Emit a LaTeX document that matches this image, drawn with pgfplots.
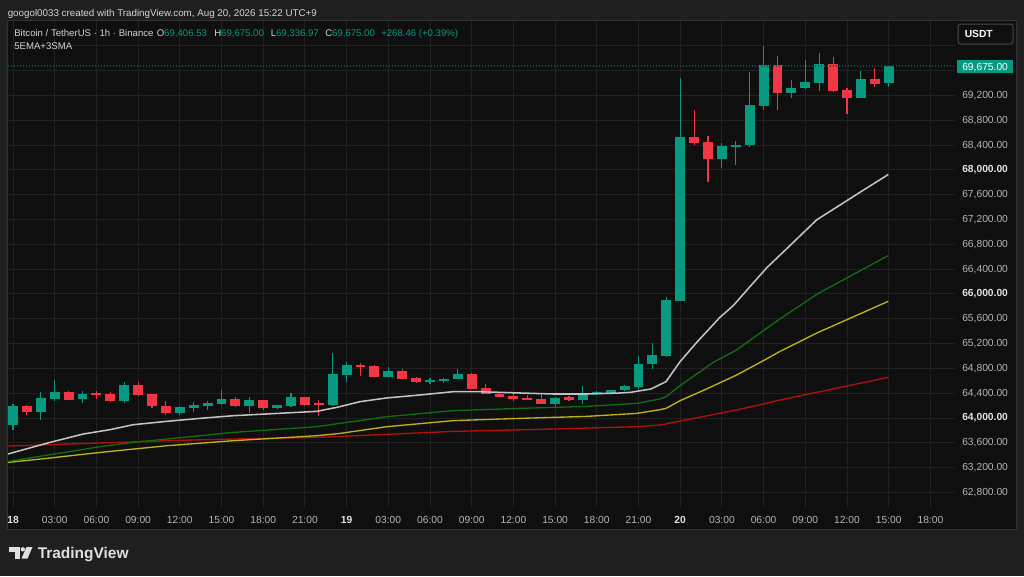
\documentclass[border=0pt]{standalone}
\usepackage{fontspec}
\setmainfont{Liberation Sans}
\usepackage{pgfplots}
\pgfplotsset{compat=1.18}
\usepackage{pgfplotstable}
\definecolor{outerbg}{RGB}{31,31,31}
\definecolor{panelbg}{RGB}{15,15,15}
\definecolor{gridc}{RGB}{33,33,33}
\definecolor{borderc}{RGB}{50,50,50}
\definecolor{boxborder}{RGB}{72,72,72}
\definecolor{upc}{RGB}{8,153,129}
\definecolor{downc}{RGB}{242,54,69}
\definecolor{dotc}{RGB}{16,84,72}
\definecolor{txt}{RGB}{209,212,220}
\definecolor{axtxt}{RGB}{178,181,190}
\definecolor{boldtxt}{RGB}{225,226,230}
\definecolor{maw}{RGB}{195,195,195}
\definecolor{mag}{RGB}{16,110,16}
\definecolor{may}{RGB}{190,180,25}
\definecolor{mar}{RGB}{180,15,15}
\newcommand{\fs}{\fontsize{7.7pt}{9pt}\selectfont}
\newcommand{\fh}{\fontsize{7.35pt}{9pt}\selectfont}
\newcommand{\fl}{\fontsize{7.2pt}{9pt}\selectfont}

% rising candles: hour index, open, high, low, close
\pgfplotstableread{
t o h l c
0 63892 64231 63811 64198
2 64106 64429 63973 64323
3 64311 64607 64279 64419
5 64300 64430 64250 64387
8 64274 64576 64250 64532
12 64090 64190 64053 64187
13 64171 64252 64090 64215
14 64203 64279 64133 64242
15 64231 64445 64215 64306
17 64187 64335 64090 64295
19 64161 64215 64140 64203
20 64198 64403 64187 64338
23 64203 65048 64190 64710
24 64698 64897 64585 64860
27 64661 64823 64661 64763
30 64574 64645 64555 64607
31 64597 64645 64570 64629
32 64629 64790 64629 64719
39 64231 64340 64187 64333
41 64290 64510 64220 64403
42 64403 64440 64380 64424
43 64413 64460 64380 64456
44 64452 64530 64440 64510
45 64500 64994 64468 64876
46 64871 65210 64790 65016
47 64995 65958 64990 65905
48 65893 69485 65880 68528
51 68180 68432 68029 68383
52 68385 68474 68087 68400
53 68394 69577 68368 69039
54 69027 69990 68969 69695
56 69237 69444 69157 69324
57 69319 69781 69308 69411
58 69398 69883 69269 69711
61 69163 69587 69160 69469
63 69406.53 69675 69336.97 69675
}\upcandles

% falling candles
\pgfplotstableread{
t o h l c
1 64198 64215 64053 64106
4 64419 64430 64285 64295
6 64395 64430 64306 64382
7 64392 64420 64260 64274
9 64537 64580 64350 64376
10 64387 64390 64160 64187
11 64198 64279 64053 64090
16 64306 64340 64180 64198
18 64295 64300 64130 64161
21 64338 64345 64200 64215
22 64240 64295 64026 64225
25 64860 64887 64671 64832
26 64844 64850 64661 64661
28 64763 64790 64634 64634
29 64645 64660 64574 64574
33 64719 64725 64473 64473
34 64478 64548 64392 64392
35 64392 64403 64338 64338
36 64349 64403 64269 64316
37 64323 64380 64290 64300
38 64306 64403 64231 64231
40 64338 64360 64280 64284
49 68528 68974 68395 68437
50 68448 68539 67802 68180
55 69695 69829 68969 69244
59 69711 69818 69254 69269
60 69292 69324 68894 69163
62 69469 69647 69335 69388
}\downcandles

\pgfplotstableread{
t v
-0.36 63421
2.66 63608
5.06 63743
6.98 63813
8.65 63893
11.06 63947
13.45 63995
15.85 64038
18.25 64066
21.85 64108
23.29 64172
24.96 64264
26.88 64324
29.28 64372
31.65 64425
33.6 64425
36.47 64404
38.85 64388
41.29 64388
43.67 64404
44.4 64414
45.9 64469
46.98 64587
47.99 64909
49.19 65221
50.86 65624
51.82 65813
53.02 66119
54.22 66421
55.9 66781
57.82 67195
60.94 67640
62.97 67926
}\mawhite

\pgfplotstableread{
t v
-0.36 63301
2.66 63409
6.26 63538
8.65 63608
11.06 63662
15.85 63769
21.85 63861
23.5 63914
26.9 64022
31.65 64119
36.47 64156
41.29 64188
44.9 64237
46.55 64308
46.98 64345
47.99 64522
50.38 64898
52.06 65098
53.98 65409
55.18 65598
57.94 66011
62.97 66619
}\magreen

\pgfplotstableread{
t v
-0.36 63285
2.66 63356
6.26 63446
11.06 63554
15.85 63635
21.85 63715
23.5 63752
26.9 63861
31.65 63958
36.47 63995
41.29 64027
44.9 64076
46.55 64135
46.98 64156
47.99 64280
49.9 64469
52.06 64694
53.98 64925
55.18 65075
57.94 65382
62.97 65882
}\mayellow

\pgfplotstableread{
t v
-0.36 63549
6.26 63598
11.06 63635
15.85 63662
21.85 63688
23.5 63704
31.65 63785
38.85 63823
44.9 63861
46.55 63888
52.06 64130
53.98 64227
55.18 64291
62.97 64656
}\mared

\begin{document}
\begin{tikzpicture}
\begin{scope}[x=0.75pt,y=-0.75pt]
\fill[outerbg] (0,0) rectangle (1024,576);
\filldraw[fill=panelbg, draw=borderc, line width=0.75pt] (7.5,20.5) rectangle (1016,529);
\end{scope}

\begin{axis}[
  at={(6pt,-381pt)}, anchor=south west,
  scale only axis, width=710.25pt, height=365.25pt,
  xmin=-0.36, xmax=67.77, ymin=62550, ymax=70400,
  axis line style={draw=none},
  major tick length=0pt,
  clip mode=individual,
  grid=major,
  major grid style={color=gridc, line width=0.75pt},
  scaled y ticks=false,
  xtick={0,3,...,66},
  xticklabels={{\textcolor{boldtxt}{\textbf{18}}},03:00,06:00,09:00,12:00,15:00,18:00,21:00,
    {\textcolor{boldtxt}{\textbf{19}}},03:00,06:00,09:00,12:00,15:00,18:00,21:00,
    {\textcolor{boldtxt}{\textbf{20}}},03:00,06:00,09:00,12:00,15:00,18:00},
  xticklabel style={font=\fs, text=axtxt, anchor=north, inner sep=0pt, yshift=-6pt},
  ytick={62800,63200,63600,64000,64400,64800,65200,65600,66000,66400,66800,67200,67600,68000,68400,68800,69200},
  yticklabels={{62,800.00},{63,200.00},{63,600.00},{\textcolor{boldtxt}{\textbf{64,000.00}}},{64,400.00},{64,800.00},{65,200.00},{65,600.00},{\textcolor{boldtxt}{\textbf{66,000.00}}},{66,400.00},{66,800.00},{67,200.00},{67,600.00},{\textcolor{boldtxt}{\textbf{68,000.00}}},{68,400.00},{68,800.00},{69,200.00}},
  extra y ticks={69600,70000},
  extra y tick labels={},
  yticklabel pos=right,
  yticklabel style={font=\fs, text=axtxt, anchor=west, inner sep=0pt, xshift=5.25pt},
]
% wicks
\addplot[draw=none, mark=none, forget plot,
  error bars/.cd, y dir=both, y explicit, error mark=none,
  error bar style={draw=upc, line width=0.8pt}]
  table[x=t, y expr={(\thisrow{h}+\thisrow{l})/2}, y error expr={(\thisrow{h}-\thisrow{l})/2}] {\upcandles};
\addplot[draw=none, mark=none, forget plot,
  error bars/.cd, y dir=both, y explicit, error mark=none,
  error bar style={draw=downc, line width=0.8pt}]
  table[x=t, y expr={(\thisrow{h}+\thisrow{l})/2}, y error expr={(\thisrow{h}-\thisrow{l})/2}] {\downcandles};
% bodies
\addplot[draw=none, mark=none, forget plot,
  error bars/.cd, y dir=both, y explicit, error mark=none,
  error bar style={draw=upc, line width=7.4pt}]
  table[x=t, y expr={(\thisrow{o}+\thisrow{c})/2}, y error expr={max(abs(\thisrow{c}-\thisrow{o})/2,9)}] {\upcandles};
\addplot[draw=none, mark=none, forget plot,
  error bars/.cd, y dir=both, y explicit, error mark=none,
  error bar style={draw=downc, line width=7.4pt}]
  table[x=t, y expr={(\thisrow{o}+\thisrow{c})/2}, y error expr={max(abs(\thisrow{c}-\thisrow{o})/2,9)}] {\downcandles};
% moving averages
\addplot[mar, line width=1pt, mark=none] table[x=t, y=v] {\mared};
\addplot[may, line width=1pt, mark=none] table[x=t, y=v] {\mayellow};
\addplot[mag, line width=1pt, mark=none] table[x=t, y=v] {\magreen};
\addplot[maw, line width=1.15pt, mark=none] table[x=t, y=v] {\mawhite};
% last price line
\addplot[dotc, line width=0.8pt, dash pattern=on 0.8pt off 1.45pt, mark=none] coordinates {(-0.36,69675) (67.77,69675)};
\end{axis}

\begin{scope}[x=0.75pt,y=-0.75pt]
% header
\node[anchor=base west, inner sep=0pt, text=txt, font=\fh] at (7.5,16) {googol0033 created with TradingView.com, Aug 20, 2026 15:22 UTC+9};
% legend line
\node[anchor=base west, inner sep=0pt, text=txt, font=\fl] at (14,36.7) {Bitcoin / TetherUS · 1h · Binance};
\node[anchor=base west, inner sep=0pt, text=txt, font=\fl] at (156.5,36.7) {O\textcolor{upc}{69,406.53}};
\node[anchor=base west, inner sep=0pt, text=txt, font=\fl] at (214,36.7) {H\textcolor{upc}{69,675.00}};
\node[anchor=base west, inner sep=0pt, text=txt, font=\fl] at (270.5,36.7) {L\textcolor{upc}{69,336.97}};
\node[anchor=base west, inner sep=0pt, text=txt, font=\fl] at (325,36.7) {C\textcolor{upc}{69,675.00}};
\node[anchor=base west, inner sep=0pt, text=upc, font=\fl] at (381,36.7) {+268.46 (+0.39\%)};
\node[anchor=base west, inner sep=0pt, text=txt, font=\fl] at (14,49.3) {5EMA+3SMA};
% currency box
\draw[draw=boxborder, line width=0.75pt, fill=panelbg, rounded corners=2pt] (958,24) rectangle (1013,44);
\node[anchor=base west, inner sep=0pt, text=white, font=\fs\bfseries] at (964.5,37.3) {USDT};
% last price label
\fill[upc] (957,60) rectangle (1013,73);
\node[anchor=base west, inner sep=0pt, text=white, font=\fs] at (962,70.3) {69,675.00};
% TradingView logo
\fill[white!88!black] (9,547) rectangle (19.5,551.5);
\fill[white!88!black] (14.5,547) rectangle (19.5,558.5);
\fill[white!88!black] (22.8,549.3) circle (2.2);
\fill[white!88!black] (26.5,547) -- (32.5,547) -- (27.5,558.5) -- (21.5,558.5) -- cycle;
\node[anchor=base west, inner sep=0pt, text=white!88!black, font=\fontsize{11.6pt}{13pt}\selectfont\bfseries] at (37.5,558.3) {TradingView};
\end{scope}
\end{tikzpicture}
\end{document}
